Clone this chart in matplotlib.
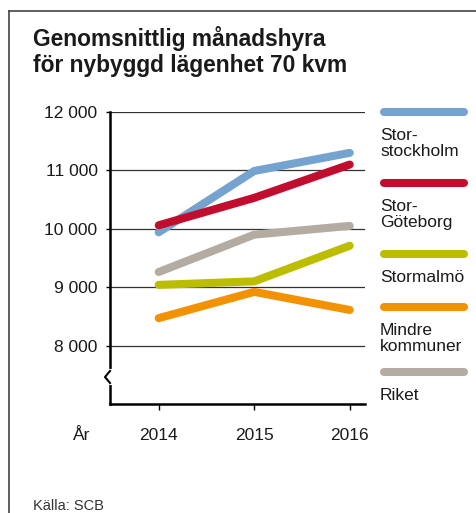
import numpy as np
import matplotlib
matplotlib.use("Agg")
import matplotlib.pyplot as plt
from matplotlib.lines import Line2D

plt.rcParams['font.family'] = ['Liberation Sans', 'DejaVu Sans']

years = [2014, 2015, 2016]
stockholm = [9940, 10990, 11300]
goteborg = [10060, 10530, 11100]
malmo = [9040, 9100, 9710]
mindre = [8470, 8920, 8610]
riket = [9260, 9900, 10050]

series_names = ["Stor-\nstockholm", "Stor-\nGöteborg", "Stormalmö", "Mindre\nkommuner", "Riket"]
series_values = [stockholm, goteborg, malmo, mindre, riket]
colors = ["#75a3cf", "#c20e2e", "#bdbd00", "#f39200", "#b4aca2"]
draw_order = [4, 2, 3, 1, 0]  # riket behind, stockholm on top

yticks = [8000, 9000, 10000, 11000, 12000]
ytick_labels = ["8 000", "9 000", "10 000", "11 000", "12 000"]

W, H = 476, 513
fig = plt.figure(figsize=(W / 100, H / 100), dpi=100)


def fx(px):
    return px / W


def fy(py):
    return 1 - py / H


# frame around the graphic
fig.add_artist(Line2D([fx(9), fx(9)], [fy(11), 0], color="#444444", lw=1.2))
fig.add_artist(Line2D([fx(9), 1], [fy(11), fy(11)], color="#444444", lw=1.2))

fig.text(fx(33), fy(72), "Genomsnittlig månadshyra\nför nybyggd lägenhet 70 kvm",
         fontsize=16.4, fontweight="bold", color="#1a1a1a", va="baseline", linespacing=1.18)

ax = fig.add_axes([fx(110), fy(404), fx(365) - fx(110), fy(112) - fy(404)])
ax.set_xlim(2013.49, 2016.16)
ax.set_ylim(7000, 12000)

for i in draw_order:
    ax.plot(years, series_values[i], color=colors[i], lw=5.8, solid_capstyle="round",
            solid_joinstyle="round", zorder=3 + i)

for v in yticks:
    ax.axhline(v, color="#333333", lw=0.9, zorder=1)

ax.set_yticks(yticks)
ax.set_yticklabels(ytick_labels, fontsize=12.5, color="#1a1a1a")
ax.set_xticks(years)
ax.set_xticklabels([str(y) for y in years], fontsize=12.5, color="#1a1a1a")
ax.tick_params(axis="y", length=3, width=1, pad=6)
ax.tick_params(axis="x", length=4, width=1, pad=13)

for s in ["top", "right"]:
    ax.spines[s].set_visible(False)
ax.spines["left"].set_linewidth(1.8)
ax.spines["bottom"].set_linewidth(1.8)

# axis break on the y axis
yb = 1 - (377 - 112) / (404 - 112)
gap = 6 / 292
ax.plot([0, 0], [yb - gap, yb + gap], transform=ax.transAxes, color="white", lw=3, clip_on=False, zorder=10)
zx = 5 / 255
ax.plot([0, -zx, 0], [yb + gap, yb, yb - gap], transform=ax.transAxes, color="black", lw=1.5,
        clip_on=False, zorder=11)

fig.text(fx(73), fy(440), "År", fontsize=12.5, color="#1a1a1a", va="baseline")

# legend
legend_y = [112, 183, 254, 307, 372]
for i, name in enumerate(series_names):
    fig.add_artist(Line2D([fx(384), fx(464)], [fy(legend_y[i]), fy(legend_y[i])], color=colors[i],
                          lw=5.8, solid_capstyle="round"))
    fig.text(fx(380), fy(legend_y[i] + 16), name, fontsize=12.5, color="#1a1a1a", va="top",
             linespacing=1.1)

fig.text(fx(33), fy(510), "Källa: SCB", fontsize=10.5, color="#333333", va="baseline")

fig.savefig("out.png", dpi=100)
